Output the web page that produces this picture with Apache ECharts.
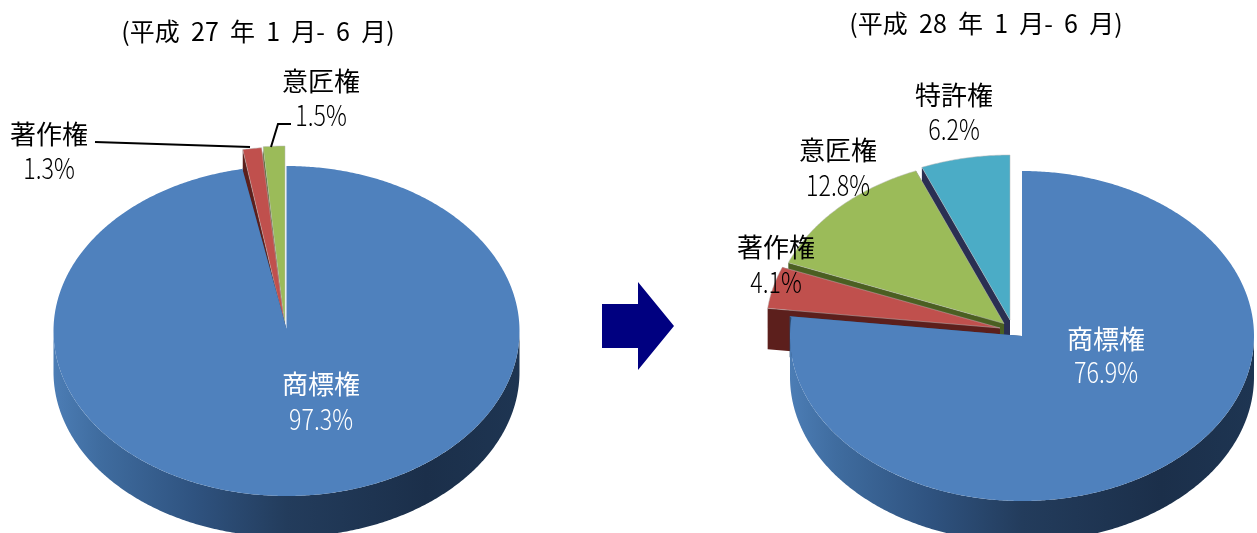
<!DOCTYPE html>
<html lang="ja">
<head>
<meta charset="utf-8">
<title>産業財産権の内訳</title>
<style>
  html, body { margin: 0; padding: 0; background: #fff; }
  #chart { width: 1257px; height: 533px; }
</style>
<script src="https://cdn.jsdelivr.net/npm/echarts@6/dist/echarts.min.js"></script>
</head>
<body>
<div id="chart"></div>
<script>
// Shares of rights, in percent, for each half-year period
const titleH27 = '(平成  27  年  1  月-  6  月)';
const titleH28 = '(平成  28  年  1  月-  6  月)';
const namesH27 = ['商標権', '著作権', '意匠権'];
const valuesH27 = [97.3, 1.3, 1.5];
const namesH28 = ['商標権', '著作権', '意匠権', '特許権'];
const valuesH28 = [76.9, 4.1, 12.8, 6.2];

const JP_FONT = '"Noto Sans CJK JP", "Noto Sans", sans-serif';

// Fill colours per right: top face, cut face, bevel
const palette = {
  '商標権': { top: '#4f81bd', cut: '#2c4d74', edge: null },
  '著作権': { top: '#c0504d', cut: '#5c1f1c', edge: 'rgba(185,185,185,0.5)' },
  '意匠権': { top: '#9bbb59', cut: '#4b5f22', edge: 'rgba(185,185,185,0.5)' },
  '特許権': { top: '#4bacc6', cut: '#2a2f52', edge: 'rgba(185,185,185,0.5)' }
};
const rimStops = [
  { offset: 0, color: '#4c7db5' },
  { offset: 0.1, color: '#3f6c9f' },
  { offset: 0.3, color: '#2f5380' },
  { offset: 0.5, color: '#233c5c' },
  { offset: 0.8, color: '#1b2f4a' },
  { offset: 1, color: '#1e3552' }
];

// Placement of each pie: rim centre and wedge tip for every slice.
// flare nudges the last rim point sideways to follow the perspective of the cut.
const layoutH27 = {
  rx: 233, ry: 165, depth: 41,
  slices: [
    { cx: 286.5, cy: 331, tx: 286.5, ty: 329, flare: -3.5 },
    { cx: 283.5, cy: 312, tx: 285, ty: 328 },
    { cx: 285, cy: 311, tx: 285, ty: 328 }
  ],
  drawOrder: [2, 1, 0],
  labels: [
    { x: 321, y: 384, vy: 419, fill: '#fff' },
    { x: 49, y: 134, vy: 168, fill: '#000' },
    { x: 321, y: 81, vy: 115, fill: '#000' }
  ]
};
const layoutH28 = {
  rx: 232, ry: 165, depth: 41,
  slices: [
    { cx: 1022, cy: 336, tx: 1022, ty: 336, flare: -2 },
    { cx: 998, cy: 328, tx: 1000, ty: 328 },
    { cx: 1004, cy: 323.5, tx: 1004, ty: 323.5 },
    { cx: 1010, cy: 320, tx: 1010, ty: 320 }
  ],
  drawOrder: [3, 2, 1, 0],
  labels: [
    { x: 1106, y: 339, vy: 372, fill: '#fff' },
    { x: 776, y: 247, vy: 282, fill: '#000' },
    { x: 838, y: 150, vy: 185, fill: '#000' },
    { x: 954, y: 95, vy: 129, fill: '#000' }
  ]
};

// Point on a slice's elliptical rim; angles run clockwise from twelve o'clock
function rimPoint(s, rx, ry, deg, dy) {
  const a = deg * Math.PI / 180;
  return [s.cx + rx * Math.sin(a), s.cy - ry * Math.cos(a) + (dy || 0)];
}

function arcPoints(s, rx, ry, from, to, dy) {
  const pts = [];
  const steps = Math.max(2, Math.ceil(Math.abs(to - from) * 2));
  for (let i = 0; i <= steps; i++) {
    pts.push(rimPoint(s, rx, ry, from + (to - from) * i / steps, dy));
  }
  return pts;
}

function pieSeries(names, values, layout) {
  const total = values.reduce((a, b) => a + b, 0);
  const starts = [];
  let run = 0;
  values.forEach(v => { starts.push(run); run += v; });

  return {
    type: 'custom',
    coordinateSystem: 'none',
    silent: true,
    animation: false,
    data: layout.drawOrder.map(i => ({ name: names[i], value: [i, values[i]] })),
    renderItem: function (params, api) {
      const i = api.value(0);
      const v = api.value(1);
      const name = names[i];
      const s = layout.slices[i];
      const { rx, ry, depth } = layout;
      const from = starts[i] / total * 360;
      const to = (starts[i] + v) / total * 360;
      const colors = palette[name];
      const children = [];

      // Rim point closing the slice, after any perspective nudge
      const closing = rimPoint(s, rx, ry, to);
      closing[0] += s.flare || 0;

      // Cut faces along both straight edges
      [rimPoint(s, rx, ry, from), closing].forEach(p => {
        children.push({
          type: 'polygon',
          shape: { points: [[s.tx, s.ty], p, [p[0], p[1] + depth], [s.tx, s.ty + depth]] },
          style: { fill: colors.cut }
        });
      });

      // Outer rim, only where it faces the viewer
      const lo = Math.max(from, 90);
      const hi = Math.min(to, 270);
      if (hi > lo) {
        const upper = arcPoints(s, rx, ry, lo, hi, 0);
        const lower = arcPoints(s, rx, ry, hi, lo, depth);
        children.push({
          type: 'polygon',
          shape: { points: upper.concat(lower) },
          style: { fill: new echarts.graphic.LinearGradient(0, 0, 1, 0, rimStops) }
        });
      }

      // Top face
      const face = arcPoints(s, rx, ry, from, to, 0);
      face[face.length - 1] = closing;
      children.push({
        type: 'polygon',
        shape: { points: [[s.tx, s.ty]].concat(face) },
        style: colors.edge
          ? { fill: colors.top, stroke: colors.edge, lineWidth: 1 }
          : { fill: colors.top }
      });

      // Name and share
      const label = layout.labels[i];
      children.push({
        type: 'text', x: label.x, y: label.y, z2: 10,
        style: {
          text: name, fill: label.fill, align: 'center', verticalAlign: 'middle',
          font: '400 26px ' + JP_FONT
        }
      });
      children.push({
        type: 'text', x: label.x, y: label.vy, z2: 10, scaleX: 0.83,
        style: {
          text: v.toFixed(1) + '%', fill: label.fill, align: 'center', verticalAlign: 'middle',
          font: '300 28px ' + JP_FONT
        }
      });
      return { type: 'group', children: children };
    }
  };
}

const chart = echarts.init(document.getElementById('chart'), null, { renderer: 'canvas' });
chart.setOption({
  backgroundColor: '#ffffff',
  animation: false,
  title: [
    { text: titleH27, left: 253, top: 14, textAlign: 'center',
      textStyle: { fontFamily: JP_FONT, fontSize: 25, fontWeight: 400, color: '#000' } },
    { text: titleH28, left: 981, top: 6, textAlign: 'center',
      textStyle: { fontFamily: JP_FONT, fontSize: 25, fontWeight: 400, color: '#000' } }
  ],
  series: [
    pieSeries(namesH27, valuesH27, layoutH27),
    pieSeries(namesH28, valuesH28, layoutH28)
  ],
  graphic: [
    // Arrow from the earlier period to the later one
    { type: 'polygon', silent: true,
      shape: { points: [[602, 304], [638, 304], [638, 282], [674, 326], [638, 370], [638, 348], [602, 348]] },
      style: { fill: '#000080' } },
    // Leader lines for the two thin slices
    { type: 'polyline', silent: true, z: 20,
      shape: { points: [[95, 142], [250, 147]] },
      style: { stroke: '#000', lineWidth: 2, fill: 'none' } },
    { type: 'polyline', silent: true, z: 20,
      shape: { points: [[291, 124], [278, 124], [271, 147]] },
      style: { stroke: '#000', lineWidth: 2, fill: 'none' } }
  ]
});
</script>
</body>
</html>
